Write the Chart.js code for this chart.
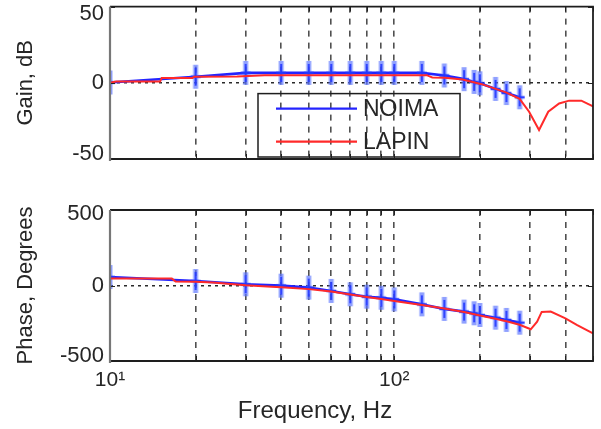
<!DOCTYPE html>
<html><head><meta charset="utf-8">
<script src="https://cdn.jsdelivr.net/npm/chart.js@4"></script>
<style>
html,body{margin:0;padding:0;background:#fff;width:601px;height:429px;overflow:hidden}
canvas{position:absolute;left:0}
#c1{top:0}
#c2{top:190px}
</style></head><body>
<canvas id="c1" width="601" height="190"></canvas>
<canvas id="c2" width="601" height="239"></canvas>
<script>
// ---------- data ----------
const xTicks = [10,20,30,40,50,60,70,80,90,100,200,300,400,500];
const xTickLabels = {10:'10¹', 100:'10²'};
const gainTicks = [-50,0,50];
const phaseTicks = [-500,0,500];
const seriesLabels = ['NOIMA','LAPIN'];
const axisTitles = ['Gain, dB','Phase, Degrees','Frequency, Hz'];

const noimaFreq  = [10,20,30,40,50,60,70,80,90,100,125,150,176,191,200,227,248,276];
const noimaGain  = [0.2,4,6.5,6.5,6.5,6.5,6.5,6.5,6.5,6.5,6.5,4.8,2.4,0.6,-0.3,-4,-6.7,-9.5];
const noimaPhase = [56,30,8,-1,-14,-36,-58,-74,-81,-92,-125,-155,-173,-184,-195,-213,-228,-246];

const lapinGainFreq = [10,10.5,15,15.2,19.5,19.8,28,35,130,136,150,174,203,247,276,298,323,348,380,412,455,500];
const lapinGain     = [0,0.8,0.8,3.2,3.2,4,4.2,5,5,3.5,3.3,2.2,-0.9,-6.3,-10.5,-19,-31,-19,-13.6,-11.7,-11.7,-15.5];
const lapinPhaseFreq = [10,16.5,17,20,23,30,37,40,50,60,70,80,90,100,125,150,176,200,227,250,276,302,318,330,355,400,440,500];
const lapinPhase     = [46,46,26,25,20,2,-8,-12,-24,-40,-60,-76,-90,-103,-129,-152,-176,-198,-220,-238,-260,-290,-240,-175,-172,-217,-262,-317];

// ---------- styling ----------
const FONT = '"Liberation Sans", Arial, sans-serif';
const TXT = '#262626';
const BLUE = '#2424ff';
const RED = '#ff2a2a';
Chart.defaults.font.family = FONT;

function makeMarker(){
  const c = document.createElement('canvas'); c.width = 12; c.height = 26;
  const g = c.getContext('2d');
  g.strokeStyle = 'rgba(95,120,255,0.7)'; g.lineWidth = 5;
  g.beginPath(); g.moveTo(6,1); g.lineTo(6,25); g.stroke();
  g.strokeStyle = 'rgba(35,55,255,0.95)'; g.lineWidth = 1.8;
  g.beginPath(); g.moveTo(6,4); g.lineTo(6,22); g.stroke();
  g.lineWidth = 2.5;
  g.beginPath(); g.moveTo(1,13); g.lineTo(11,13); g.stroke();
  return c;
}
const marker = makeMarker();

function pts(xs, ys){ return xs.map((x,i)=>({x, y: ys[i]})); }

function xAxis(showLabels){
  return {
    type:'logarithmic', min:10, max:500,
    afterBuildTicks: s => { s.ticks = xTicks.map(v=>({value:v})); },
    afterFit: s => { s.height = showLabels ? 68 : 31; },
    ticks:{ display:showLabels, autoSkip:false, maxRotation:0, minRotation:0, padding:7,
      font:{family:FONT,size:21}, color:TXT, callback: v => xTickLabels[v] || '' },
    grid:{ drawTicks:false, lineWidth:1.6,
      color: c => (c.tick && (c.tick.value===10 || c.tick.value===500)) ? 'rgba(0,0,0,0)' : '#505050' },
    border:{ display:false, dash:[6,6] }
  };
}
function yAxis(ticks, title, topLH, botLH){
  const mn = ticks[0], mx = ticks[ticks.length-1];
  return {
    type:'linear', min:mn, max:mx,
    afterBuildTicks: s => { s.ticks = ticks.map(v=>({value:v})); },
    afterFit: s => { s.width = 110; s.paddingTop = 0; s.paddingBottom = 0; },
    ticks:{ padding:6, color:TXT,
      font: c => {
        let lh = 1.2;
        if (c.tick && c.tick.value === mx) lh = topLH;
        if (c.tick && c.tick.value === mn) lh = botLH;
        return {family:FONT, size:22, lineHeight: lh};
      },
      callback: v => v===mx ? ['', String(v)] : (v===mn ? [String(v), ''] : String(v)) },
    grid:{ drawTicks:false, lineWidth:1.6,
      color: c => (c.tick && c.tick.value===0) ? '#2a2a2a' : 'rgba(0,0,0,0)' },
    border:{ display:false, dash:[3,4] },
    title:{ display:true, text:title, color:TXT, font:{family:FONT,size:22}, padding:{top:13,bottom:0} }
  };
}

const framePlugin = {
  id:'frame',
  afterDraw(chart){
    const {ctx, chartArea:a, scales} = chart;
    ctx.save();
    ctx.strokeStyle = '#222'; ctx.lineWidth = 1;
    scales.x.ticks.forEach(t => {
      const px = Math.round(scales.x.getPixelForValue(t.value)) + 0.5;
      ctx.beginPath();
      ctx.moveTo(px, a.bottom); ctx.lineTo(px, a.bottom-5);
      ctx.moveTo(px, a.top); ctx.lineTo(px, a.top+5);
      ctx.stroke();
    });
    scales.y.ticks.forEach(t => {
      const py = Math.round(scales.y.getPixelForValue(t.value)) + 0.5;
      ctx.beginPath();
      ctx.moveTo(a.left, py); ctx.lineTo(a.left+5, py);
      ctx.moveTo(a.right, py); ctx.lineTo(a.right-5, py);
      ctx.stroke();
    });
    ctx.lineWidth = 1.8; ctx.strokeStyle = '#1e1e1e';
    ctx.beginPath();
    ctx.moveTo(a.left, a.top); ctx.lineTo(a.right, a.top); ctx.lineTo(a.right, a.bottom); ctx.lineTo(a.left, a.bottom);
    ctx.stroke();
    ctx.strokeStyle = '#777'; ctx.lineWidth = 2.2;
    ctx.beginPath(); ctx.moveTo(a.left, a.top); ctx.lineTo(a.left, a.bottom+2); ctx.stroke();
    ctx.restore();
  }
};

const legendPlugin = {
  id:'boxLegend',
  afterDraw(chart){
    const {ctx, chartArea:a} = chart;
    const L = a.left + 148, R = a.left + 350, T = a.top + 87, B = a.bottom - 2;
    ctx.save();
    ctx.strokeStyle = '#1e1e1e'; ctx.lineWidth = 1.5;
    ctx.strokeRect(L, T, R-L, B-T);
    const rows = [T + 15, T + 48];
    chart.data.datasets.forEach((ds, i) => {
      const y = rows[i];
      ctx.strokeStyle = ds.borderColor; ctx.lineWidth = 2.2;
      ctx.beginPath(); ctx.moveTo(L+18, y); ctx.lineTo(L+99, y); ctx.stroke();
      ctx.fillStyle = TXT; ctx.font = '23px ' + FONT; ctx.textBaseline = 'middle'; ctx.textAlign = 'left';
      ctx.fillText(ds.label, L+105, y+1);
    });
    ctx.restore();
  }
};

const xTitlePlugin = {
  id:'xTitle',
  afterDraw(chart){
    const {ctx} = chart;
    ctx.save();
    ctx.fillStyle = TXT; ctx.font = '24px ' + FONT; ctx.textAlign = 'center'; ctx.textBaseline = 'alphabetic';
    ctx.fillText(axisTitles[2], 315, 228);
    ctx.restore();
  }
};

function datasets(nY, lX, lY){
  return [
    { label: seriesLabels[0], data: pts(noimaFreq, nY), borderColor: BLUE, backgroundColor: BLUE, order: 1,
      borderWidth: 2.6, pointStyle: marker, pointRadius: 4, pointHoverRadius: 4, tension: 0 },
    { label: seriesLabels[1], data: pts(lX, lY), borderColor: RED, backgroundColor: RED, order: 0,
      borderWidth: 2, pointRadius: 0, tension: 0 }
  ];
}

const common = (pad, showX, yAx) => ({
  responsive:false, animation:false, events:[],
  layout:{ padding: pad },
  plugins:{ legend:{display:false}, tooltip:{enabled:false} },
  scales:{ x: xAxis(showX), y: yAx }
});

new Chart(document.getElementById('c1'), {
  type:'line',
  data:{ datasets: datasets(noimaGain, lapinGainFreq, lapinGain) },
  options: common({top:5,right:8,left:0,bottom:0}, false, yAxis(gainTicks, axisTitles[0], '14px', '10px')),
  plugins:[framePlugin, legendPlugin]
});
new Chart(document.getElementById('c2'), {
  type:'line',
  data:{ datasets: datasets(noimaPhase, lapinPhaseFreq, lapinPhase) },
  options: common({top:20,right:8,left:0,bottom:0}, true, yAxis(phaseTicks, axisTitles[1], '8px', '10px')),
  plugins:[framePlugin, xTitlePlugin]
});
</script>
</body></html>
